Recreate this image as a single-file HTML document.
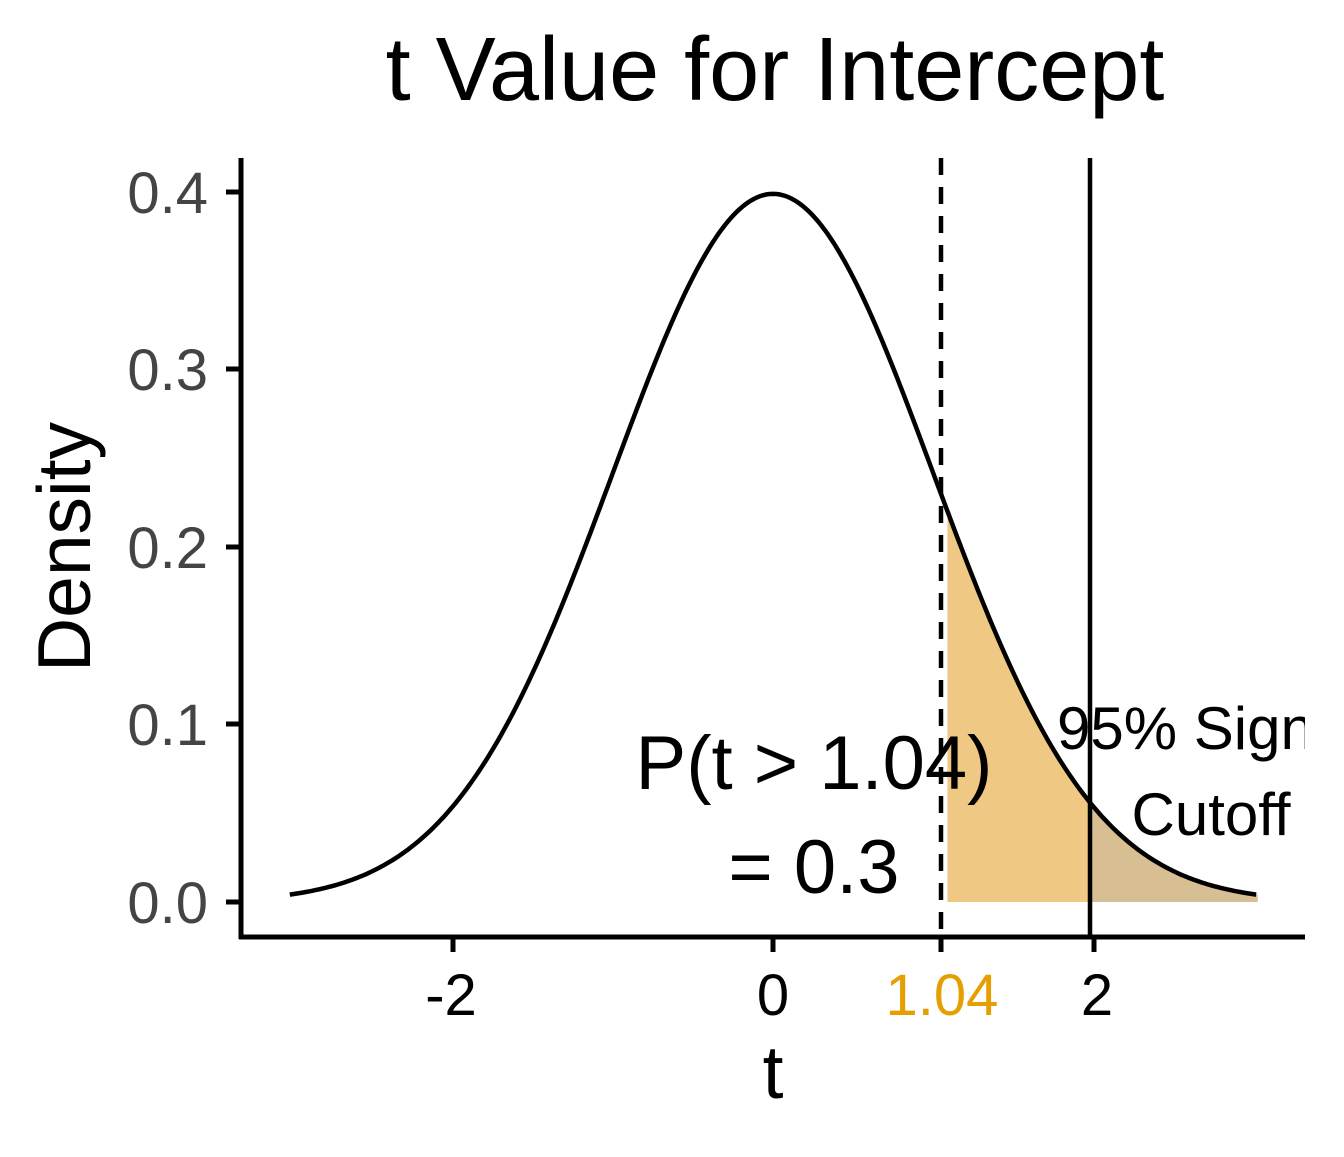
<!DOCTYPE html>
<html><head><meta charset="utf-8"><style>
html,body{margin:0;padding:0;background:#fff}
svg text{font-family:"Liberation Sans",Arial,sans-serif}
</style></head><body>
<svg id="s" width="1344" height="1152" viewBox="0 0 1344 1152" xmlns="http://www.w3.org/2000/svg">
<defs><clipPath id="c"><rect x="241" y="150" width="1064" height="787"/></clipPath></defs>
<text x="775" y="100" font-size="90" text-anchor="middle">t Value for Intercept</text>
<g clip-path="url(#c)">
<path id="fill1" fill="#EFC884"/>
<path id="fill2" fill="#D8BF93"/>
<path id="curve" fill="none" stroke="#000" stroke-width="4.5"/>
<line x1="941" y1="158" x2="941" y2="937" stroke="#000" stroke-width="4.5" stroke-dasharray="17,12"/>
<line x1="1090" y1="158" x2="1090" y2="937" stroke="#000" stroke-width="4.5"/>
<text x="1057" y="749" font-size="60">95% Significance</text>
<text x="1211" y="835" font-size="60" text-anchor="middle">Cutoff</text>
</g>
<text x="814" y="789" font-size="76" text-anchor="middle">P(t &gt; 1.04)</text>
<text x="814" y="893" font-size="76" text-anchor="middle">= 0.3</text>
<line x1="241" y1="158" x2="241" y2="939" stroke="#000" stroke-width="5"/>
<line x1="239" y1="937" x2="1305" y2="937" stroke="#000" stroke-width="5"/>
<g stroke="#000" stroke-width="5">
<line x1="226" y1="902" x2="241" y2="902"/><line x1="226" y1="724" x2="241" y2="724"/>
<line x1="226" y1="547" x2="241" y2="547"/><line x1="226" y1="369" x2="241" y2="369"/>
<line x1="226" y1="192" x2="241" y2="192"/>
<line x1="453" y1="937" x2="453" y2="952"/><line x1="773" y1="937" x2="773" y2="952"/>
<line x1="941" y1="937" x2="941" y2="952"/><line x1="1094" y1="937" x2="1094" y2="952"/>
</g>
<g font-size="58" fill="#444" text-anchor="end">
<text x="208" y="923">0.0</text><text x="208" y="745">0.1</text><text x="208" y="568">0.2</text>
<text x="208" y="390">0.3</text><text x="208" y="213">0.4</text>
</g>
<g font-size="58" text-anchor="middle">
<text x="451" y="1015">-2</text><text x="773" y="1015">0</text>
<text x="942" y="1015" fill="#E69F00">1.04</text><text x="1097" y="1015">2</text>
</g>
<text x="773" y="1098" font-size="75" text-anchor="middle">t</text>
<text transform="translate(90,547) rotate(-90)" font-size="75" text-anchor="middle">Density</text>
</svg>
<script>
function pdf(t){return Math.exp(-t*t/2)/Math.sqrt(2*Math.PI);}
function X(t){return 773+160*t;}function Y(v){return 902-1775*v;}
var d="";for(var t=-3.02;t<=3.03;t+=0.02){d+=(d?"L":"M")+X(t).toFixed(1)+","+Y(pdf(t)).toFixed(1);}
document.getElementById("curve").setAttribute("d",d);
function area(a,b){var p="M"+X(a)+","+Y(0);for(var t=a;t<=b+1e-9;t+=0.01)p+="L"+X(t).toFixed(1)+","+Y(pdf(t)).toFixed(1);p+="L"+X(b)+","+Y(0)+"Z";return p;}
document.getElementById("fill1").setAttribute("d",area(1.09,1.98));
document.getElementById("fill2").setAttribute("d",area(1.98,3.03));
</script>
</body></html>
